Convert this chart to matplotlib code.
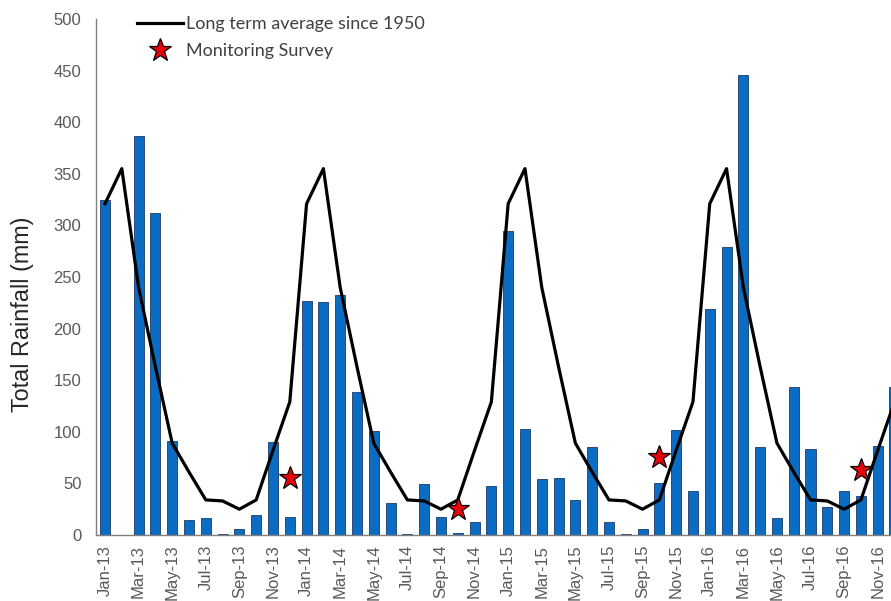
import numpy as np
import matplotlib.pyplot as plt
from matplotlib.lines import Line2D

# monthly rainfall, Jan-13 .. Dec-16
months = ['Jan', 'Feb', 'Mar', 'Apr', 'May', 'Jun',
          'Jul', 'Aug', 'Sep', 'Oct', 'Nov', 'Dec']
years = ['13', '14', '15', '16']
labels = [f'{m}-{y}' for y in years for m in months]

rain_2013 = [325, 0, 387, 312, 91, 15, 16, 1, 5.5, 19, 90, 17]
rain_2014 = [227, 226, 233, 139, 101, 31, 1, 49, 17, 2, 13, 47]
rain_2015 = [295, 103, 54, 55, 34, 85, 13, 1, 6, 50, 102, 43]
rain_2016 = [219, 279, 446, 85, 16, 143, 83, 27, 43, 38, 86, 143]
rainfall = rain_2013 + rain_2014 + rain_2015 + rain_2016

# long term monthly average (1950 onwards), same for every year
lt_avg = [321, 355, 240, 163, 89, 61, 34, 33, 25, 34, 82, 129]

# monitoring surveys: month index and value
survey_idx = [11, 21, 33, 45]
survey_val = [55, 25, 76, 63]

x = np.arange(len(rainfall))
avg_line = np.tile(lt_avg, len(years))

plt.rcParams['font.family'] = ['Liberation Sans', 'DejaVu Sans']

fig = plt.figure(figsize=(8.91, 6.01), dpi=100)
ax = fig.add_axes([96 / 891, 66 / 601, 795 / 891, 516 / 601])

ax.bar(x, rainfall, width=0.6, color='#0a6cc2', edgecolor='#1d3b66',
       linewidth=0.6, zorder=2)
ax.plot(x, avg_line, color='black', lw=2.3, zorder=3)
ax.plot(survey_idx, survey_val, ls='none', marker='*', ms=17,
        mfc='#e8000b', mec='black', mew=0.9, zorder=4)

ax.set_xlim(-0.536, 46.79)
ax.set_ylim(0, 500)
ax.set_yticks(np.arange(0, 501, 50))
ax.set_xticks(x[::2])
ax.set_xticklabels(labels[::2], rotation=90)
ax.tick_params(axis='both', length=0, labelsize=12, colors='#595959')
ax.tick_params(axis='y', pad=10.5)
ax.tick_params(axis='x', pad=7)

for side in ['top', 'right']:
    ax.spines[side].set_visible(False)
for side in ['left', 'bottom']:
    ax.spines[side].set_color('#808080')
    ax.spines[side].set_linewidth(1.0)

ax.set_ylabel('Total Rainfall (mm)', fontsize=16.8, color='#262626',
              va='center')
ax.yaxis.set_label_coords(-0.0925, 0.428)

handles = [
    Line2D([], [], color='black', lw=2.3),
    Line2D([], [], ls='none', marker='*', ms=17, mfc='#e8000b',
           mec='black', mew=0.9),
]
leg = ax.legend(handles, ['Long term average since 1950', 'Monitoring Survey'],
                loc='upper left', bbox_to_anchor=(137 / 891, 1 - 16 / 601),
                bbox_transform=fig.transFigure, frameon=False,
                prop={'family': 'Lato', 'size': 13},
                handlelength=2.55, handletextpad=0.17, labelspacing=0.63,
                borderaxespad=0, borderpad=0)
for t in leg.get_texts():
    t.set_color('#404040')

fig.savefig('out.png', dpi=100)
